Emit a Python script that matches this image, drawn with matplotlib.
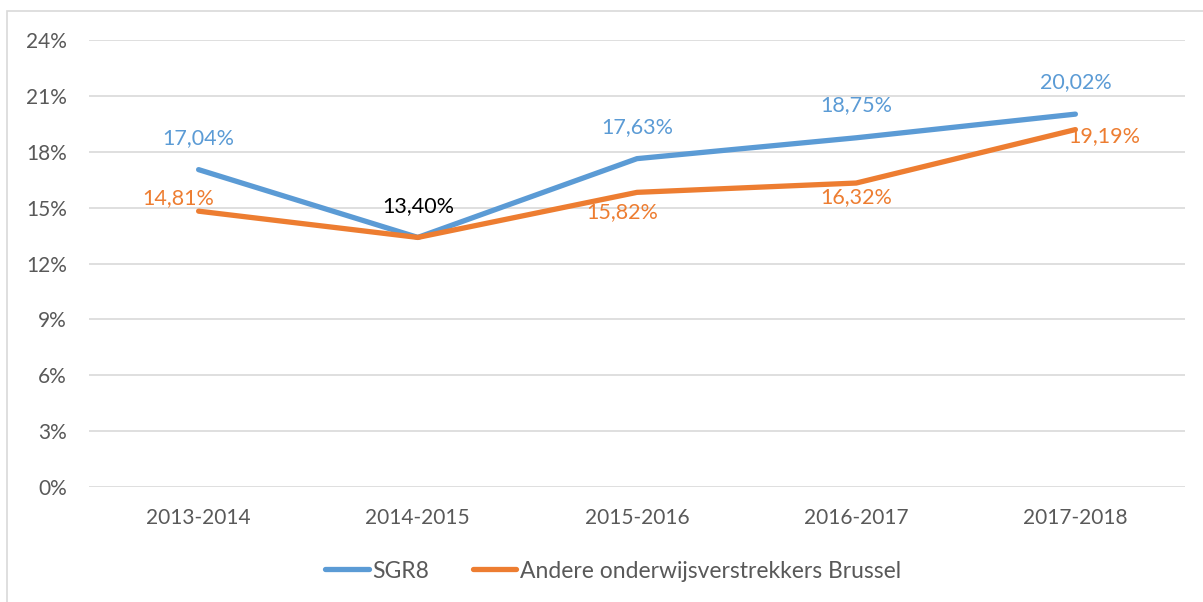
import matplotlib.pyplot as plt
from matplotlib.lines import Line2D
from matplotlib.patches import Rectangle

# Percentage of pupils per school year
years = ["2013-2014", "2014-2015", "2015-2016", "2016-2017", "2017-2018"]
sgr8 = [17.04, 13.40, 17.63, 18.75, 20.02]
andere = [14.81, 13.40, 15.82, 16.32, 19.19]
yticks = [0, 3, 6, 9, 12, 15, 18, 21, 24]

BLUE = "#5B9BD5"
ORANGE = "#ED7D31"
GREY = "#595959"

plt.rcParams["font.family"] = ["Lato", "DejaVu Sans"]

W, H = 1203, 602
fig = plt.figure(figsize=(W / 100, H / 100), dpi=100)

# chart frame (left/top visible, rest runs off the canvas)
fig.patches.append(Rectangle((7 / W, -0.1), 1.2, 1 - 11 / H + 0.1, transform=fig.transFigure,
                             fill=False, edgecolor="#D9D9D9", linewidth=1.2))

ax = fig.add_axes([89 / W, 1 - 487 / H, 1096 / W, 447 / H])
x = list(range(len(years)))

ax.plot(x, sgr8, color=BLUE, lw=3.8, solid_capstyle="round", zorder=3)
ax.plot(x, andere, color=ORANGE, lw=3.8, solid_capstyle="round", zorder=3)

ax.set_xlim(-0.5, len(years) - 0.5)
ax.set_ylim(0, 24)
ax.set_yticks(yticks)
ax.set_yticklabels([f"{v}%" for v in yticks])
ax.set_xticks(x)
ax.set_xticklabels(years)
ax.tick_params(length=0, labelsize=15, colors=GREY)
ax.tick_params(axis="y", pad=16)
ax.tick_params(axis="x", pad=15)
ax.grid(axis="y", color="#D9D9D9", lw=1.2)
ax.set_axisbelow(True)
for s in ax.spines.values():
    s.set_visible(False)


def fmt(v):
    return f"{v:.2f}%".replace(".", ",")


# label offsets in pixels (dx, dy)
blue_off = [(0, 32), None, (0, 32), (0, 33), (0, 32)]
orange_off = [(-20, 13), (0, 31), (-15, -20), (0, -14), (29, -7)]

for i, v in enumerate(sgr8):
    if blue_off[i] is None:
        continue
    ax.annotate(fmt(v), (i, v), xytext=blue_off[i], textcoords="offset pixels",
                ha="center", va="center", fontsize=15.5, color=BLUE)
for i, v in enumerate(andere):
    col = "black" if sgr8[i] == v else ORANGE
    ax.annotate(fmt(v), (i, v), xytext=orange_off[i], textcoords="offset pixels",
                ha="center", va="center", fontsize=15.5, color=col)

handles = [Line2D([], [], color=BLUE, lw=3.8, solid_capstyle="round"),
           Line2D([], [], color=ORANGE, lw=3.8, solid_capstyle="round")]
fig.legend(handles, ["SGR8", "Andere onderwijsverstrekkers Brussel"],
           loc="center", bbox_to_anchor=(613 / W, 1 - 571 / H), ncol=2, frameon=False,
           fontsize=16.5, labelcolor=GREY, handlelength=1.9, handletextpad=0.15,
           columnspacing=1.9)

fig.savefig("out.png", dpi=100)
